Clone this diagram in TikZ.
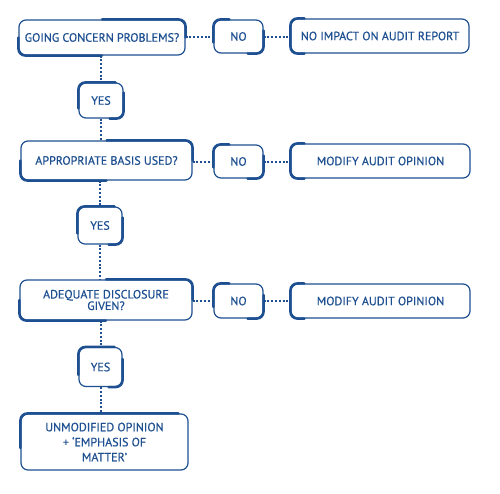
\documentclass[tikz,border=0pt]{standalone}
\usepackage{fontspec}
\setmainfont{PT Sans}
\newfontfamily\boxfont{PT Sans}[FakeBold=0.6]
\definecolor{bl}{HTML}{1E5091}
\begin{document}
\begin{tikzpicture}[x=1pt,y=1pt,
  box/.style={draw=bl, line width=1.2pt, rounded corners=7pt, inner sep=0pt, text=bl,
    font=\boxfont\fontsize{12}{12}\selectfont, align=center, fill=white},
  acc/.style={draw=bl, line width=2.5pt, rounded corners=7pt, line cap=round},
  dots/.style={draw=bl, line width=2pt, dash pattern=on 2pt off 1.8pt}]
\useasboundingbox (0,0) rectangle (500,-493);
% nodes
\node[box, minimum width=166, minimum height=35] (q1) at (102,-37.5) {GOING CONCERN PROBLEMS?};
\node[box, minimum width=49, minimum height=33] (n1) at (238.5,-36.5) {NO};
\node[box, minimum width=178, minimum height=34] (r1) at (380,-36) {NO IMPACT ON AUDIT REPORT};
\node[box, minimum width=44, minimum height=35] (y1) at (101,-100.5) {YES};
\node[box, minimum width=171, minimum height=39] (q2) at (106.5,-160.5) {APPROPRIATE BASIS USED?};
\node[box, minimum width=49, minimum height=33] (n2) at (238.5,-161.5) {NO};
\node[box, minimum width=179, minimum height=34] (r2) at (380.5,-161) {MODIFY AUDIT OPINION};
\node[box, minimum width=44, minimum height=37] (y2) at (100,-225.5) {YES};
\node[box, minimum width=172, minimum height=40, font=\boxfont\fontsize{12}{11.5}\selectfont] (q3) at (106,-300) {ADEQUATE DISCLOSURE\\GIVEN?};
\node[box, minimum width=49, minimum height=34] (n3) at (238.5,-301) {NO};
\node[box, minimum width=179, minimum height=34] (r3) at (380.5,-301) {MODIFY AUDIT OPINION};
\node[box, minimum width=43, minimum height=39] (y3) at (100.5,-367) {YES};
\node[box, minimum width=167, minimum height=56, font=\boxfont\fontsize{12}{15}\selectfont] (f) at (104.5,-442) {UNMODIFIED OPINION\\+ ‘EMPHASIS OF\\MATTER’};
% accents (brush-like thick strokes)
\foreach \q in {q1,q2,q3}{
  \draw[acc] (\q.north) -| (\q.east);
  \draw[acc] (\q.west) |- (\q.south);
}
\foreach \r in {r1,r2,r3}{
  \draw[acc] ([xshift=14pt]\r.north west) -| ([yshift=-2pt]\r.west) |- ([xshift=14pt]\r.south west);
}
\foreach \n in {n1,n2,n3}{
  \draw[acc] ([xshift=16pt]\n.north west) -| ([yshift=-6pt]\n.west);
  \draw[acc] ([yshift=6pt]\n.east) |- ([xshift=-16pt]\n.south east);
}
\foreach \y in {y1,y2,y3}{
  \draw[acc] ([yshift=-8pt]\y.west) |- ([xshift=-8pt]\y.north east);
  \draw[acc] ([yshift=8pt]\y.east) |- ([xshift=-14pt]\y.south east);
}
\draw[acc] ([yshift=-6pt]f.west) |- ([xshift=-10pt]f.north east);
% connectors
\draw[dots] (q1.east |- n1.west) -- (n1.west);
\draw[dots] (n1.east) -- (r1.west |- n1.east);
\draw[dots] (q2.east |- n2.west) -- (n2.west);
\draw[dots] (n2.east) -- (r2.west |- n2.east);
\draw[dots] (q3.east |- n3.west) -- (n3.west);
\draw[dots] (n3.east) -- (r3.west |- n3.east);
\draw[dots] (y1.north |- q1.south) -- (y1.north);
\draw[dots] (y1.south) -- (y1.south |- q2.north);
\draw[dots] (y2.north |- q2.south) -- (y2.north);
\draw[dots] (y2.south) -- (y2.south |- q3.north);
\draw[dots] (y3.north |- q3.south) -- (y3.north);
\draw[dots] (y3.south) -- (y3.south |- f.north);
\end{tikzpicture}
\end{document}
